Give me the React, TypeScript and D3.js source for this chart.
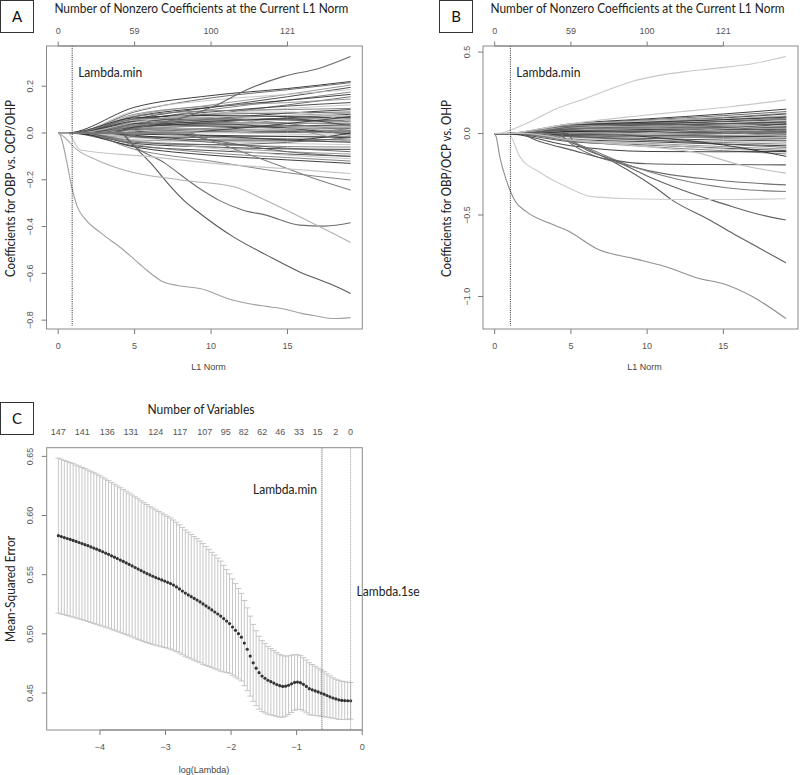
import React from 'react';
import * as d3 from 'd3';

// ---------- shared ----------
const l1Knots = [5, 10, 15, 19.13];
const l1Ticks = [0, 5, 10, 15];
const topTickLabels = ['0', '59', '100', '121'];

// ---------- panel A data ----------
const yTicksA = [-0.8, -0.6, -0.4, -0.2, 0, 0.2];
const lambdaMinA = 0.915;
// bundle: [entry L1, value@5, value@10, value@15, value@end]
const bundleA: number[][] = [
  [0.5, 0.110, 0.160, 0.190, 0.220], [0.9, 0.090, 0.150, 0.185, 0.215], [1.0, 0.075, 0.120, 0.165, 0.205],
  [1.2, 0.060, 0.110, 0.155, 0.195], [0.8, 0.095, 0.140, 0.165, 0.185], [1.5, 0.050, 0.100, 0.140, 0.175],
  [1.1, 0.070, 0.110, 0.140, 0.165], [2.0, 0.040, 0.080, 0.120, 0.155], [0.7, 0.080, 0.115, 0.130, 0.145],
  [1.3, 0.055, 0.090, 0.115, 0.130], [1.8, 0.045, 0.080, 0.105, 0.120], [0.9, 0.070, 0.095, 0.100, 0.105],
  [2.5, 0.030, 0.060, 0.085, 0.100], [1.0, 0.060, 0.080, 0.085, 0.090], [1.6, 0.040, 0.060, 0.075, 0.085],
  [3.0, 0.020, 0.045, 0.065, 0.080], [1.2, 0.055, 0.070, 0.072, 0.075], [2.2, 0.030, 0.050, 0.062, 0.070],
  [0.6, 0.065, 0.075, 0.070, 0.065], [1.4, 0.040, 0.055, 0.060, 0.060], [3.5, 0.012, 0.035, 0.045, 0.055],
  [0.9, 0.050, 0.060, 0.055, 0.050], [2.8, 0.020, 0.035, 0.042, 0.045], [1.1, 0.035, 0.045, 0.042, 0.040],
  [4.0, 0.005, 0.020, 0.030, 0.035], [1.7, 0.030, 0.035, 0.032, 0.030], [2.4, 0.020, 0.028, 0.027, 0.025],
  [0.8, 0.040, 0.030, 0.022, 0.020], [3.2, 0.010, 0.018, 0.017, 0.015], [1.5, 0.020, 0.015, 0.012, 0.010],
  [4.5, 0.002, 0.008, 0.007, 0.005], [2.0, 0.015, 0.005, 0.002, 0.000], [6.0, 0.000, 0.008, 0.010, 0.005],
  [1.3, 0.025, 0.040, 0.020, -0.005], [2.6, 0.010, 0.002, -0.005, -0.010], [0.7, -0.020, -0.015, -0.014, -0.015],
  [3.8, -0.005, -0.010, -0.015, -0.020], [1.9, -0.015, -0.020, -0.025, -0.030], [1.0, -0.030, -0.035, -0.035, -0.035],
  [5.5, 0.000, -0.012, -0.030, -0.040], [2.3, -0.020, -0.035, -0.045, -0.050], [1.2, -0.035, -0.050, -0.058, -0.060],
  [0.9, -0.045, -0.060, -0.068, -0.070], [3.0, -0.015, -0.040, -0.065, -0.080], [1.6, -0.035, -0.060, -0.080, -0.090],
  [0.6, -0.055, -0.075, -0.090, -0.100], [2.1, -0.030, -0.065, -0.095, -0.110], [1.4, -0.050, -0.085, -0.105, -0.120],
  [1.0, -0.060, -0.095, -0.115, -0.130], [7.0, 0.000, -0.030, -0.080, -0.100], [2.0, 0.030, 0.060, 0.030, -0.010],
  [3.3, 0.025, 0.050, 0.060, 0.030], [1.1, 0.045, 0.085, 0.090, 0.050], [0.8, 0.060, 0.065, 0.040, 0.010],
  [2.7, -0.010, -0.030, -0.030, 0.000], [1.5, -0.040, -0.050, -0.040, -0.020], [4.2, 0.010, 0.030, 0.015, -0.040],
  [8.0, 0.000, 0.010, 0.040, 0.070], [9.5, 0.000, 0.000, 0.020, 0.030], [1.5, -0.070, -0.120, -0.170, -0.201],
];
const distinctA: number[][][] = [
  [[0, 0], [0.12, -0.008], [0.3, -0.045], [0.55, -0.12], [0.9, -0.235], [1.25, -0.315], [1.8, -0.37], [2.75, -0.425], [4.27, -0.5], [5.5, -0.57], [6.88, -0.637], [7.8, -0.652], [9.28, -0.665], [11.46, -0.715], [12.5, -0.73], [13.6, -0.741], [14.7, -0.751], [16, -0.772], [16.9, -0.782], [18, -0.793], [19.13, -0.789]],
  [[0, 0], [4.2, 0], [4.4, -0.016], [6, -0.125], [7.56, -0.244], [8.2, -0.287], [9.28, -0.344], [11.46, -0.444], [13.64, -0.522], [15.8, -0.594], [18, -0.651], [19.13, -0.686]],
  [[0, 0], [4.3, 0], [4.5, -0.02], [7, -0.13], [9.4, -0.244], [10.5, -0.287], [12.1, -0.33], [13.6, -0.351], [15.8, -0.394], [17.45, -0.398], [19.13, -0.384]],
  [[0, 0], [0.37, -0.016], [1.2, -0.07], [2.55, -0.116], [4.3, -0.158], [8, -0.201], [11.5, -0.23], [13.5, -0.285], [15.8, -0.358], [18, -0.43], [19.13, -0.468]],
  [[0, 0], [3.2, 0], [3.4, 0.001], [6, 0.034], [8.4, 0.07], [10.15, 0.113], [12.3, 0.184], [14.7, 0.241], [17.1, 0.277], [19.13, 0.327]],
  [[0, 0], [8.5, 0], [9.9, -0.03], [12, -0.08], [14.5, -0.14], [17, -0.2], [19.13, -0.244]],
  [[0, 0], [0.6, 0], [1.45, -0.073], [5.8, -0.1], [10.2, -0.13], [14.5, -0.151], [19.13, -0.173]],
];
const distinctShadeA = ['#a0a0a0', '#5a5a5a', '#6e6e6e', '#b0b0b0', '#6a6a6a', '#808080', '#c4c4c4'];

// ---------- panel B data ----------
const yTicksB = [-1.0, -0.5, 0, 0.5];
const lambdaMinB = 1.03;
const bundleB: number[][] = [
  [0.5, 0.060, 0.090, 0.120, 0.150], [0.8, 0.055, 0.085, 0.110, 0.135], [1.0, 0.050, 0.080, 0.100, 0.125],
  [1.2, 0.045, 0.070, 0.095, 0.120], [0.6, 0.058, 0.075, 0.090, 0.110], [1.5, 0.040, 0.065, 0.085, 0.105],
  [0.9, 0.050, 0.070, 0.085, 0.100], [2.0, 0.030, 0.055, 0.075, 0.095], [1.1, 0.045, 0.060, 0.075, 0.090],
  [0.7, 0.050, 0.062, 0.072, 0.085], [1.8, 0.035, 0.050, 0.065, 0.080], [2.5, 0.025, 0.045, 0.060, 0.075],
  [1.3, 0.040, 0.052, 0.060, 0.070], [0.8, 0.045, 0.055, 0.060, 0.065], [3.0, 0.015, 0.035, 0.050, 0.060],
  [1.6, 0.030, 0.042, 0.050, 0.055], [1.0, 0.040, 0.045, 0.048, 0.050], [2.2, 0.025, 0.035, 0.042, 0.045],
  [3.5, 0.010, 0.025, 0.035, 0.040], [1.4, 0.030, 0.035, 0.036, 0.035], [0.6, 0.035, 0.032, 0.030, 0.030],
  [2.8, 0.015, 0.022, 0.025, 0.025], [4.0, 0.004, 0.015, 0.018, 0.020], [1.7, 0.020, 0.018, 0.016, 0.015],
  [2.4, 0.012, 0.012, 0.010, 0.010], [0.9, 0.020, 0.010, 0.006, 0.005], [3.2, 0.005, 0.004, 0.002, 0.000],
  [5.5, 0.000, 0.005, 0.002, -0.005], [1.9, 0.000, -0.005, -0.008, -0.010], [0.7, -0.010, -0.012, -0.014, -0.015],
  [2.6, -0.005, -0.012, -0.017, -0.020], [1.2, -0.015, -0.020, -0.025, -0.030], [4.5, -0.002, -0.015, -0.030, -0.040],
  [1.5, -0.020, -0.030, -0.040, -0.045], [0.8, -0.030, -0.040, -0.048, -0.055], [2.2, -0.020, -0.040, -0.055, -0.065],
  [1.0, -0.035, -0.050, -0.065, -0.075], [3.0, -0.015, -0.040, -0.065, -0.085], [1.3, -0.040, -0.060, -0.080, -0.095],
  [0.6, -0.050, -0.070, -0.090, -0.105], [2.0, -0.035, -0.065, -0.095, -0.115], [1.1, -0.045, -0.080, -0.105, -0.125],
  [6.5, 0.000, -0.020, -0.070, -0.140], [1.7, 0.040, 0.060, 0.040, 0.010], [0.9, 0.050, 0.040, 0.010, -0.020],
  [2.5, -0.010, 0.010, 0.030, 0.060], [8.0, 0.000, 0.005, 0.030, 0.050], [3.8, 0.002, -0.010, 0.000, 0.020],
  [0.6, -0.075, -0.110, -0.112, -0.110],
];
const distinctB: number[][][] = [
  [[0, 0], [0.5, 0.005], [1, 0.02], [2.5, 0.08], [4, 0.15], [5.8, 0.21], [7.5, 0.27], [9, 0.32], [11, 0.36], [12.5, 0.38], [14.5, 0.4], [17, 0.43], [19.1, 0.473]],
  [[0, 0], [0.7, 0], [3, 0.03], [5, 0.06], [9.04, 0.105], [12.3, 0.135], [15.6, 0.166], [19.1, 0.207]],
  [[0, 0], [0.1, -0.02], [0.33, -0.14], [0.76, -0.285], [1.31, -0.409], [2.08, -0.479], [3.6, -0.551], [4.7, -0.592], [6.88, -0.715], [9.06, -0.766], [11.24, -0.817], [13.4, -0.889], [14.95, -0.92], [16.9, -1.0], [19.1, -1.135]],
  [[0, 0], [4.3, 0], [4.45, -0.018], [6, -0.09], [7.95, -0.182], [10.6, -0.336], [11.67, -0.41], [14.1, -0.53], [15.6, -0.612], [17.5, -0.71], [19.1, -0.793]],
  [[0, 0], [4.8, 0], [5.1, -0.04], [8, -0.17], [10, -0.26], [12.3, -0.346], [14.3, -0.41], [15.6, -0.449], [17.5, -0.5], [19.1, -0.53]],
  [[0, 0], [0.9, 0], [1.64, -0.14], [3, -0.24], [4.7, -0.326], [6.4, -0.387], [9, -0.4], [12, -0.405], [15, -0.405], [19.1, -0.4]],
  [[0, 0], [4.3, 0], [4.67, -0.039], [9.04, -0.203], [14.5, -0.285], [19.1, -0.315]],
  [[0, 0], [3, 0], [5, -0.05], [9, -0.2], [13, -0.3], [16, -0.34], [19.1, -0.356]],
  [[0, 0], [1.4, 0], [3, -0.05], [5, -0.1], [7.5, -0.16], [10, -0.185], [14, -0.19], [19.1, -0.192]],
  [[0, 0], [2, 0], [5, -0.04], [10, -0.08], [13.4, -0.12], [16, -0.19], [19.1, -0.243]],
];
const distinctShadeB = ['#c8c8c8', '#c8c8c8', '#909090', '#5e5e5e', '#626262', '#cccccc', '#707070', '#7e7e7e', '#5e5e5e', '#c0c0c0'];

// ---------- panel C data ----------
const logLambda = [
  -4.634, -4.589, -4.544, -4.499, -4.454, -4.409, -4.364, -4.319, -4.274, -4.229,
  -4.184, -4.139, -4.094, -4.049, -4.004, -3.959, -3.914, -3.869, -3.824, -3.779,
  -3.734, -3.689, -3.644, -3.599, -3.554, -3.509, -3.463, -3.418, -3.373, -3.328,
  -3.283, -3.238, -3.193, -3.148, -3.103, -3.058, -3.013, -2.968, -2.923, -2.878,
  -2.833, -2.788, -2.743, -2.698, -2.653, -2.608, -2.563, -2.518, -2.473, -2.428,
  -2.383, -2.338, -2.293, -2.248, -2.203, -2.158, -2.113, -2.068, -2.023, -1.978,
  -1.933, -1.888, -1.843, -1.798, -1.753, -1.708, -1.663, -1.618, -1.573, -1.528,
  -1.483, -1.438, -1.393, -1.348, -1.303, -1.258, -1.213, -1.168, -1.123, -1.078,
  -1.032, -0.987, -0.942, -0.897, -0.852, -0.807, -0.762, -0.717, -0.672, -0.627,
  -0.582, -0.537, -0.492, -0.447, -0.402, -0.357, -0.312, -0.267, -0.222, -0.177,
];
const cvMean = [
  0.5830, 0.5822, 0.5814, 0.5806, 0.5798, 0.5790, 0.5781, 0.5772, 0.5763, 0.5754,
  0.5745, 0.5735, 0.5725, 0.5716, 0.5705, 0.5694, 0.5683, 0.5672, 0.5660, 0.5648,
  0.5636, 0.5624, 0.5612, 0.5600, 0.5587, 0.5574, 0.5561, 0.5548, 0.5535, 0.5522,
  0.5510, 0.5498, 0.5487, 0.5476, 0.5466, 0.5456, 0.5446, 0.5436, 0.5425, 0.5412,
  0.5397, 0.5380, 0.5362, 0.5345, 0.5329, 0.5314, 0.5300, 0.5286, 0.5270, 0.5253,
  0.5236, 0.5219, 0.5202, 0.5185, 0.5168, 0.5150, 0.5129, 0.5108, 0.5087, 0.5058,
  0.5030, 0.5002, 0.4972, 0.4922, 0.4870, 0.4812, 0.4755, 0.4710, 0.4672, 0.4643,
  0.4625, 0.4608, 0.4596, 0.4584, 0.4572, 0.4562, 0.4556, 0.4558, 0.4566, 0.4578,
  0.4590, 0.4593, 0.4588, 0.4574, 0.4556, 0.4537, 0.4527, 0.4518, 0.4509, 0.4500,
  0.4490, 0.4479, 0.4468, 0.4458, 0.4450, 0.4443, 0.4438, 0.4436, 0.4435, 0.4434,
];
const cvSd = [
  0.0655, 0.0654, 0.0652, 0.0651, 0.0649, 0.0648, 0.0646, 0.0645, 0.0643, 0.0642,
  0.0640, 0.0639, 0.0637, 0.0635, 0.0632, 0.0629, 0.0626, 0.0623, 0.0620, 0.0617,
  0.0614, 0.0611, 0.0608, 0.0606, 0.0603, 0.0600, 0.0597, 0.0594, 0.0590, 0.0587,
  0.0583, 0.0579, 0.0576, 0.0572, 0.0568, 0.0565, 0.0561, 0.0557, 0.0554, 0.0550,
  0.0546, 0.0542, 0.0538, 0.0534, 0.0530, 0.0526, 0.0522, 0.0518, 0.0514, 0.0510,
  0.0502, 0.0495, 0.0487, 0.0480, 0.0472, 0.0465, 0.0450, 0.0435, 0.0420, 0.0407,
  0.0395, 0.0382, 0.0370, 0.0360, 0.0350, 0.0338, 0.0325, 0.0317, 0.0308, 0.0300,
  0.0293, 0.0287, 0.0280, 0.0275, 0.0270, 0.0265, 0.0260, 0.0254, 0.0248, 0.0242,
  0.0236, 0.0230, 0.0228, 0.0225, 0.0223, 0.0220, 0.0214, 0.0208, 0.0202, 0.0196,
  0.0190, 0.0183, 0.0177, 0.0170, 0.0167, 0.0165, 0.0162, 0.0160, 0.0157, 0.0155,
];
const nVarsAt = [-4.634, -4.268, -3.887, -3.526, -3.149, -2.779, -2.402, -2.082, -1.808, -1.524, -1.250, -0.965, -0.680, -0.405, -0.177];
const nVarsLabels = ['147', '141', '136', '131', '124', '117', '107', '95', '82', '62', '46', '33', '15', '2', '0'];
const xTicksC = [-4, -3, -2, -1, 0];
const yTicksC = [0.45, 0.5, 0.55, 0.6, 0.65];
const lambdaMinLog = -0.614;
const lambda1seLog = -0.177;

// ---------- styling ----------
const lineGreys = ['#2a2a2a', '#5e5e5e', '#8e8e8e', '#3c3c3c', '#c2c2c2', '#787878'];
const RFONT = '"Liberation Sans", Arial, sans-serif';
const NFONT = 'Lato, "Open Sans", sans-serif';
const AXIS = '#7a7a7a';
const TICKTXT = '#555';
const NOTE = '#222';

const fmtMinus = (s: string) => s.replace('-', '\u2212');

function padDomain(lo: number, hi: number): [number, number] {
  const p = (hi - lo) * 0.04;
  return [lo - p, hi + p];
}

function bundleToPath(b: number[]): number[][] {
  const entry = b[0];
  const pts: number[][] = [[0, 0]];
  if (entry > 0.05) pts.push([entry, 0]);
  l1Knots.forEach((k, j) => {
    if (k > entry + 0.4) pts.push([k, b[j + 1]]);
  });
  return pts;
}

type Box = { x0: number; x1: number; y0: number; y1: number };

function Note(props: { x: number; y: number; len: number; anchor?: string; rotate?: boolean; size?: number; children: string }) {
  const { x, y, len, anchor = 'middle', rotate = false, size = 13.5, children } = props;
  return (
    <text
      transform={`translate(${x},${y})${rotate ? ' rotate(-90)' : ''}`}
      dy="0.35em" textAnchor={anchor} fontFamily={NFONT} fontSize={size} fill={NOTE}
      textLength={len} lengthAdjust="spacingAndGlyphs"
    >{children}</text>
  );
}

function LabelBox({ x, y, t }: { x: number; y: number; t: string }) {
  return (
    <g>
      <rect x={x + 0.5} y={y + 0.5} width={33} height={32} fill="#fff" stroke="#333" strokeWidth={1} />
      <text x={x + 17} y={y + 17} dy="0.36em" textAnchor="middle" fontFamily={NFONT} fontSize={15} fill="#111">{t}</text>
    </g>
  );
}

function CoefPanel(props: {
  box: Box; bundle: number[][]; distinct: number[][][]; shades: string[];
  yTicks: number[]; yDec: number; lambdaMin: number; yLabel: string; letter: string; letterX: number;
}) {
  const { box, bundle, distinct, shades, yTicks, yDec, lambdaMin, yLabel, letter, letterX } = props;
  const paths = bundle.map(bundleToPath);
  const all = [...paths, ...distinct];
  const xs = all.flat().map((p) => p[0]);
  const ys = all.flat().map((p) => p[1]);
  const x = d3.scaleLinear().domain(padDomain(d3.min(xs)!, d3.max(xs)!)).range([box.x0, box.x1]);
  const y = d3.scaleLinear().domain(padDomain(d3.min(ys)!, d3.max(ys)!)).range([box.y1, box.y0]);
  const line = d3.line<number[]>().x((d) => x(d[0])).y((d) => y(d[1])).curve(d3.curveMonotoneX);
  const cx = (box.x0 + box.x1) / 2 - 3;
  return (
    <g>
      <LabelBox x={letterX} y={0} t={letter} />
      <Note x={cx} y={9} len={294} size={12.5}>Number of Nonzero Coefficients at the Current L1 Norm</Note>
      {/* top axis */}
      {l1Ticks.map((t, i) => (
        <g key={'tt' + i}>
          <line x1={x(t)} x2={x(t)} y1={box.y0} y2={box.y0 - 4.5} stroke={AXIS} />
          <text x={x(t)} y={box.y0 - 15.3} dy="0.35em" textAnchor="middle" fontFamily={RFONT} fontSize={9} fill={TICKTXT}>{topTickLabels[i]}</text>
        </g>
      ))}
      <line x1={x(l1Ticks[0])} x2={x(l1Ticks[l1Ticks.length - 1])} y1={box.y0} y2={box.y0} stroke={AXIS} />
      {/* bottom axis */}
      {l1Ticks.map((t, i) => (
        <g key={'bt' + i}>
          <line x1={x(t)} x2={x(t)} y1={box.y1} y2={box.y1 + 5} stroke={AXIS} />
          <text x={x(t)} y={box.y1 + 16.7} dy="0.35em" textAnchor="middle" fontFamily={RFONT} fontSize={9} fill={TICKTXT}>{String(t)}</text>
        </g>
      ))}
      <text x={(box.x0 + box.x1) / 2 + 4} y={box.y1 + 37.7} dy="0.35em" textAnchor="middle" fontFamily={RFONT} fontSize={9} fill="#444">L1 Norm</text>
      {/* left axis */}
      {yTicks.map((t, i) => (
        <g key={'yt' + i}>
          <line x1={box.x0} x2={box.x0 - 5} y1={y(t)} y2={y(t)} stroke={AXIS} />
          <text transform={`translate(${box.x0 - 16.5},${y(t)}) rotate(-90)`} dy="0.35em" textAnchor="middle" fontFamily={RFONT} fontSize={9} fill={TICKTXT}>
            {fmtMinus(t.toFixed(yDec))}
          </text>
        </g>
      ))}
      <Note x={box.x0 - 36.5} y={(box.y0 + box.y1) / 2 + 1} len={177} rotate>{yLabel}</Note>
      {/* paths */}
      <g fill="none" strokeWidth={0.9}>
        {paths.map((p, i) => (
          <path key={'b' + i} d={line(p)!} stroke={lineGreys[i % lineGreys.length]} />
        ))}
        {distinct.map((p, i) => (
          <path key={'d' + i} d={line(p)!} stroke={shades[i]} strokeWidth={1.1} />
        ))}
      </g>
      <line x1={x(lambdaMin)} x2={x(lambdaMin)} y1={box.y0} y2={box.y1 - 3} stroke="#222" strokeDasharray="1,1.2" />
      <Note x={x(lambdaMin) + 6} y={box.y0 + 27} len={64} anchor="start" size={12.5}>Lambda.min</Note>
      <rect x={box.x0} y={box.y0} width={box.x1 - box.x0} height={box.y1 - box.y0} fill="none" stroke="#8a8a8a" />
    </g>
  );
}

function CvPanel({ box }: { box: Box }) {
  const hi = cvMean.map((m, i) => m + cvSd[i]);
  const lo = cvMean.map((m, i) => m - cvSd[i]);
  const x = d3.scaleLinear().domain(padDomain(d3.min(logLambda)!, d3.max(logLambda)!)).range([box.x0, box.x1]);
  const y = d3.scaleLinear().domain(padDomain(d3.min(lo)!, d3.max(hi)!)).range([box.y1, box.y0]);
  const barW = (d3.max(logLambda)! - d3.min(logLambda)!) * 0.01;
  const bw = x(barW) - x(0);
  return (
    <g>
      <LabelBox x={0} y={402} t="C" />
      <Note x={201} y={box.y0 - 38.7} len={107}>Number of Variables</Note>
      {nVarsAt.map((v, i) => (
        <text key={'nv' + i} x={x(v)} y={box.y0 - 15.7} dy="0.35em" textAnchor="middle" fontFamily={RFONT} fontSize={9} fill={TICKTXT}>{nVarsLabels[i]}</text>
      ))}
      {xTicksC.map((t, i) => (
        <g key={'xc' + i}>
          <line x1={x(t)} x2={x(t)} y1={box.y1} y2={box.y1 + 5} stroke={AXIS} />
          <text x={x(t)} y={box.y1 + 16.7} dy="0.35em" textAnchor="middle" fontFamily={RFONT} fontSize={9} fill={TICKTXT}>{fmtMinus(String(t))}</text>
        </g>
      ))}
      <line x1={x(xTicksC[0])} x2={x(xTicksC[xTicksC.length - 1])} y1={box.y1} y2={box.y1} stroke={AXIS} />
      <text x={204} y={box.y1 + 40} dy="0.35em" textAnchor="middle" fontFamily={RFONT} fontSize={9} fill="#444">log(Lambda)</text>
      {yTicksC.map((t, i) => (
        <g key={'yc' + i}>
          <line x1={box.x0} x2={box.x0 - 5} y1={y(t)} y2={y(t)} stroke={AXIS} />
          <text transform={`translate(${box.x0 - 16.5},${y(t)}) rotate(-90)`} dy="0.35em" textAnchor="middle" fontFamily={RFONT} fontSize={9} fill={TICKTXT}>
            {t.toFixed(2)}
          </text>
        </g>
      ))}
      <Note x={box.x0 - 36.5} y={589} len={106} rotate>Mean-Squared Error</Note>
      <g stroke="#c6c6c6" strokeWidth={1}>
        {logLambda.map((l, i) => (
          <g key={'eb' + i}>
            <line x1={x(l)} x2={x(l)} y1={y(hi[i])} y2={y(lo[i])} />
            <line x1={x(l) - bw} x2={x(l) + bw} y1={y(hi[i])} y2={y(hi[i])} />
            <line x1={x(l) - bw} x2={x(l) + bw} y1={y(lo[i])} y2={y(lo[i])} />
          </g>
        ))}
      </g>
      {logLambda.map((l, i) => (
        <circle key={'pt' + i} cx={x(l)} cy={y(cvMean[i])} r={1.6} fill="#333" />
      ))}
      <line x1={x(lambdaMinLog)} x2={x(lambdaMinLog)} y1={box.y0} y2={box.y1} stroke="#555" strokeDasharray="1,1" />
      <line x1={x(lambda1seLog)} x2={x(lambda1seLog)} y1={box.y0} y2={box.y1} stroke="#999" strokeDasharray="1,1" />
      <Note x={x(lambdaMinLog) - 5} y={box.y0 + 41.5} len={64} anchor="end" size={12.5}>Lambda.min</Note>
      <Note x={x(lambda1seLog) + 6} y={box.y0 + 144} len={63} anchor="start" size={12.5}>Lambda.1se</Note>
      <rect x={box.x0} y={box.y0} width={box.x1 - box.x0} height={box.y1 - box.y0} fill="none" stroke="#8a8a8a" />
    </g>
  );
}

export default function App() {
  return (
    <svg width={800} height={775} viewBox="0 0 800 775" style={{ position: 'absolute', left: 0, top: 0, background: '#fff' }}>
      <rect x={0} y={0} width={800} height={775} fill="#fff" />
      <CoefPanel box={{ x0: 46.5, x1: 362.3, y0: 46, y1: 329 }} bundle={bundleA} distinct={distinctA} shades={distinctShadeA}
        yTicks={yTicksA} yDec={1} lambdaMin={lambdaMinA} yLabel="Coefficients for OBP vs. OCP/OHP" letter="A" letterX={0} />
      <CoefPanel box={{ x0: 483, x1: 798, y0: 46, y1: 329 }} bundle={bundleB} distinct={distinctB} shades={distinctShadeB}
        yTicks={yTicksB} yDec={1} lambdaMin={lambdaMinB} yLabel="Coefficients for OBP/OCP vs. OHP" letter="B" letterX={439} />
      <CvPanel box={{ x0: 46.7, x1: 362.3, y0: 447.7, y1: 730 }} />
    </svg>
  );
}
